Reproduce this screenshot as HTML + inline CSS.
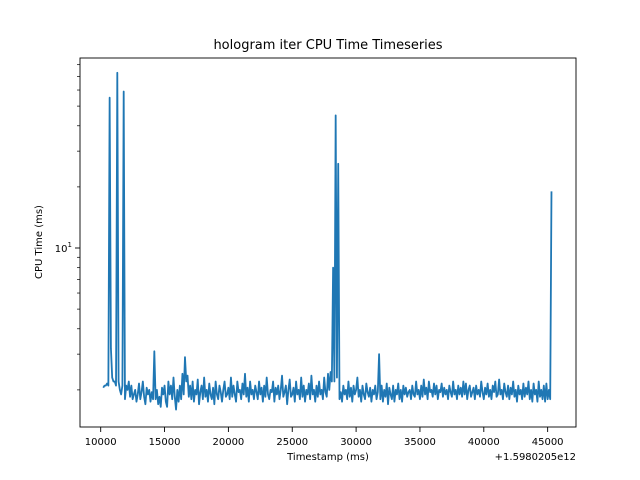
<!DOCTYPE html>
<html><head><meta charset="utf-8"><style>
html,body{margin:0;padding:0;background:#fff;}
svg{display:block;font-family:"DejaVu Sans","Liberation Sans",sans-serif;}
</style></head><body>
<svg id="chart" width="640" height="480">
<rect x="0" y="0" width="640" height="480" fill="#fff"/>
<text x="328" y="49" font-size="13" text-anchor="middle">hologram iter CPU Time Timeseries</text>
<text x="328" y="460" font-size="10" text-anchor="middle">Timestamp (ms)</text>
<text x="576" y="460" font-size="10" text-anchor="end">+1.5980205e12</text>
<text x="0" y="0" font-size="10" text-anchor="middle" transform="translate(42,242) rotate(-90)">CPU Time (ms)</text>
<g id="ticks"></g>
<g id="plot"></g>
<rect x="80" y="58" width="496" height="369" fill="none" stroke="#000" stroke-width="0.9"/>
</svg>
<script>
const times = [
10200,10300,10400,10500,10600,10700,10800,10900,11000,11100,
11200,11300,11400,11500,11600,11700,11800,11900,12000,12100,
12200,12300,12400,12500,12600,12700,12800,12900,13000,13100,
13200,13300,13400,13500,13600,13700,13800,13900,14000,14100,
14200,14300,14400,14500,14600,14700,14800,14900,15000,15100,
15200,15300,15400,15500,15600,15700,15800,15900,16000,16100,
16200,16300,16400,16500,16600,16700,16800,16900,17000,17100,
17200,17300,17400,17500,17600,17700,17800,17900,18000,18100,
18200,18300,18400,18500,18600,18700,18800,18900,19000,19100,
19200,19300,19400,19500,19600,19700,19800,19900,20000,20100,
20200,20300,20400,20500,20600,20700,20800,20900,21000,21100,
21200,21300,21400,21500,21600,21700,21800,21900,22000,22100,
22200,22300,22400,22500,22600,22700,22800,22900,23000,23100,
23200,23300,23400,23500,23600,23700,23800,23900,24000,24100,
24200,24300,24400,24500,24600,24700,24800,24900,25000,25100,
25200,25300,25400,25500,25600,25700,25800,25900,26000,26100,
26200,26300,26400,26500,26600,26700,26800,26900,27000,27100,
27200,27300,27400,27500,27600,27700,27800,27900,28000,28100,
28200,28300,28400,28500,28600,28700,28800,28900,29000,29100,
29200,29300,29400,29500,29600,29700,29800,29900,30000,30100,
30200,30300,30400,30500,30600,30700,30800,30900,31000,31100,
31200,31300,31400,31500,31600,31700,31800,31900,32000,32100,
32200,32300,32400,32500,32600,32700,32800,32900,33000,33100,
33200,33300,33400,33500,33600,33700,33800,33900,34000,34100,
34200,34300,34400,34500,34600,34700,34800,34900,35000,35100,
35200,35300,35400,35500,35600,35700,35800,35900,36000,36100,
36200,36300,36400,36500,36600,36700,36800,36900,37000,37100,
37200,37300,37400,37500,37600,37700,37800,37900,38000,38100,
38200,38300,38400,38500,38600,38700,38800,38900,39000,39100,
39200,39300,39400,39500,39600,39700,39800,39900,40000,40100,
40200,40300,40400,40500,40600,40700,40800,40900,41000,41100,
41200,41300,41400,41500,41600,41700,41800,41900,42000,42100,
42200,42300,42400,42500,42600,42700,42800,42900,43000,43100,
43200,43300,43400,43500,43600,43700,43800,43900,44000,44100,
44200,44300,44400,44500,44600,44700,44800,44900,45000,45100,
45200,45300];
const cpuTimes = [
2.05,2.1,2.1,2.15,2.1,55,3.2,2.3,2.2,2.2,
2.1,73,2.2,2.0,1.9,2.1,59,1.8,2.1,2.0,
2.2,1.85,2.1,1.8,1.9,2.0,1.75,1.9,2.15,1.8,
1.95,2.2,1.85,1.7,2.05,1.9,2.0,1.75,1.95,1.8,
3.1,1.8,2.0,1.7,1.85,1.65,2.05,1.9,2.1,1.75,
1.65,2.2,1.9,2.1,1.8,2.3,1.85,1.6,2.0,1.75,
2.1,1.8,2.4,1.9,2.9,2.2,2.35,1.85,2.1,1.8,
2.2,1.75,2.0,1.9,2.25,1.7,1.95,2.1,1.8,2.3,
1.85,2.0,1.75,2.15,1.9,1.8,2.05,1.7,2.2,1.9,
1.8,2.1,1.95,1.75,2.0,2.2,1.85,1.9,2.05,1.8,
2.3,1.85,2.1,1.9,1.75,2.2,1.95,2.0,1.8,2.15,
1.9,2.4,1.85,2.05,1.75,2.2,1.9,2.0,1.8,2.1,
1.95,1.8,2.2,1.9,2.05,1.75,2.1,1.85,2.3,1.9,
1.8,2.0,1.95,2.2,1.75,2.05,1.9,2.1,1.8,2.0,
2.35,1.85,1.95,2.1,1.7,2.0,2.25,1.85,1.9,2.05,
1.75,2.2,1.9,2.0,1.8,2.3,1.85,2.1,1.75,2.0,
1.9,2.15,1.8,2.35,1.9,2.0,1.75,2.1,1.85,2.2,
1.9,2.0,1.8,2.3,1.95,1.85,2.4,2.0,2.45,2.2,
8,2.2,45,2.3,26,1.8,1.95,1.75,2.1,1.9,
2.0,1.8,2.2,1.85,2.05,1.75,2.1,1.9,2.0,2.3,
1.85,2.0,1.75,2.1,1.9,1.8,2.15,1.95,1.85,2.05,
1.75,2.0,1.9,2.1,1.8,1.95,3.0,1.8,2.1,1.75,
2.0,1.85,2.15,1.7,2.05,1.9,1.8,2.1,1.75,2.0,
1.9,2.15,1.8,2.0,1.75,2.1,1.9,2.05,1.85,1.95,
2.0,1.8,2.1,1.9,1.85,2.2,1.9,2.0,1.8,2.1,
1.85,2.25,1.9,2.05,1.8,2.2,1.95,2.0,1.85,2.15,
1.9,2.1,1.8,2.0,1.95,2.15,1.85,2.05,1.9,2.0,
1.8,2.1,1.95,1.85,2.2,1.9,2.0,1.8,2.1,1.9,
2.05,1.85,2.2,1.9,2.15,1.8,2.0,2.1,1.85,1.95,
2.05,1.8,2.1,1.9,2.0,1.85,2.2,1.95,1.8,2.05,
1.9,2.15,1.85,2.0,1.8,2.1,1.95,2.2,1.85,1.9,
2.25,1.9,2.0,1.8,2.15,1.95,1.85,2.1,1.8,2.05,
1.9,2.2,1.85,2.0,1.75,2.1,1.9,2.0,1.8,2.15,
1.85,2.05,1.9,2.2,1.8,2.0,1.75,2.15,1.9,2.0,
1.75,2.2,1.85,2.0,1.8,2.1,1.75,2.15,1.8,2.0,
1.8,19];
const xTickValues = [10000,15000,20000,25000,30000,35000,40000,45000];
const xTickLabels = ["10000","15000","20000","25000","30000","35000","40000","45000"];
const yMinorValues = [2,3,4,5,6,7,8,9,20,30,40,50,60,70,80];

const NS = "http://www.w3.org/2000/svg";
function xScale(t){ return 100.7 + (t - 10000) * 0.01277; }
function yScale(v){ return 248 - Math.log10(v / 10) * 203; }

const ticks = document.getElementById('ticks');
xTickValues.forEach((t, i) => {
  const x = xScale(t);
  const ln = document.createElementNS(NS, 'line');
  ln.setAttribute('x1', x); ln.setAttribute('x2', x);
  ln.setAttribute('y1', 427); ln.setAttribute('y2', 432);
  ln.setAttribute('stroke', '#000'); ln.setAttribute('stroke-width', '0.9');
  
  
  ticks.appendChild(ln);
  const tx = document.createElementNS(NS, 'text');
  tx.setAttribute('x', x); tx.setAttribute('y', 445);
  tx.setAttribute('font-size', '10'); tx.setAttribute('text-anchor', 'middle');
  tx.textContent = xTickLabels[i];
  
  
  ticks.appendChild(tx);
});
{
  const y = yScale(10);
  const ln = document.createElementNS(NS, 'line');
  ln.setAttribute('x1', 75); ln.setAttribute('x2', 80);
  ln.setAttribute('y1', y); ln.setAttribute('y2', y);
  ln.setAttribute('stroke', '#000'); ln.setAttribute('stroke-width', '0.9');
  
  
  ticks.appendChild(ln);
  const tx = document.createElementNS(NS, 'text');
  tx.setAttribute('x', 72); tx.setAttribute('y', y + 4);
  tx.setAttribute('font-size', '10'); tx.setAttribute('text-anchor', 'end');
  tx.innerHTML = '10<tspan font-size="7" dy="-5">1</tspan>';
  
  
  ticks.appendChild(tx);
}
yMinorValues.forEach(v => {
  const y = yScale(v);
  if (y < 58 || y > 427) return;
  const ln = document.createElementNS(NS, 'line');
  ln.setAttribute('x1', 77); ln.setAttribute('x2', 80);
  ln.setAttribute('y1', y); ln.setAttribute('y2', y);
  ln.setAttribute('stroke', '#000'); ln.setAttribute('stroke-width', '0.7');
  
  
  ticks.appendChild(ln);
});

const plot = document.getElementById('plot');
const pts = times.map((t, i) => xScale(t).toFixed(2) + ',' + yScale(cpuTimes[i]).toFixed(2)).join(' ');
const pl = document.createElementNS(NS, 'polyline');
pl.setAttribute('points', pts);
pl.setAttribute('fill', 'none');
pl.setAttribute('stroke', '#1f77b4');
pl.setAttribute('stroke-width', '1.8');
pl.setAttribute('stroke-linejoin', 'round');


plot.appendChild(pl);
</script>
</body></html>
